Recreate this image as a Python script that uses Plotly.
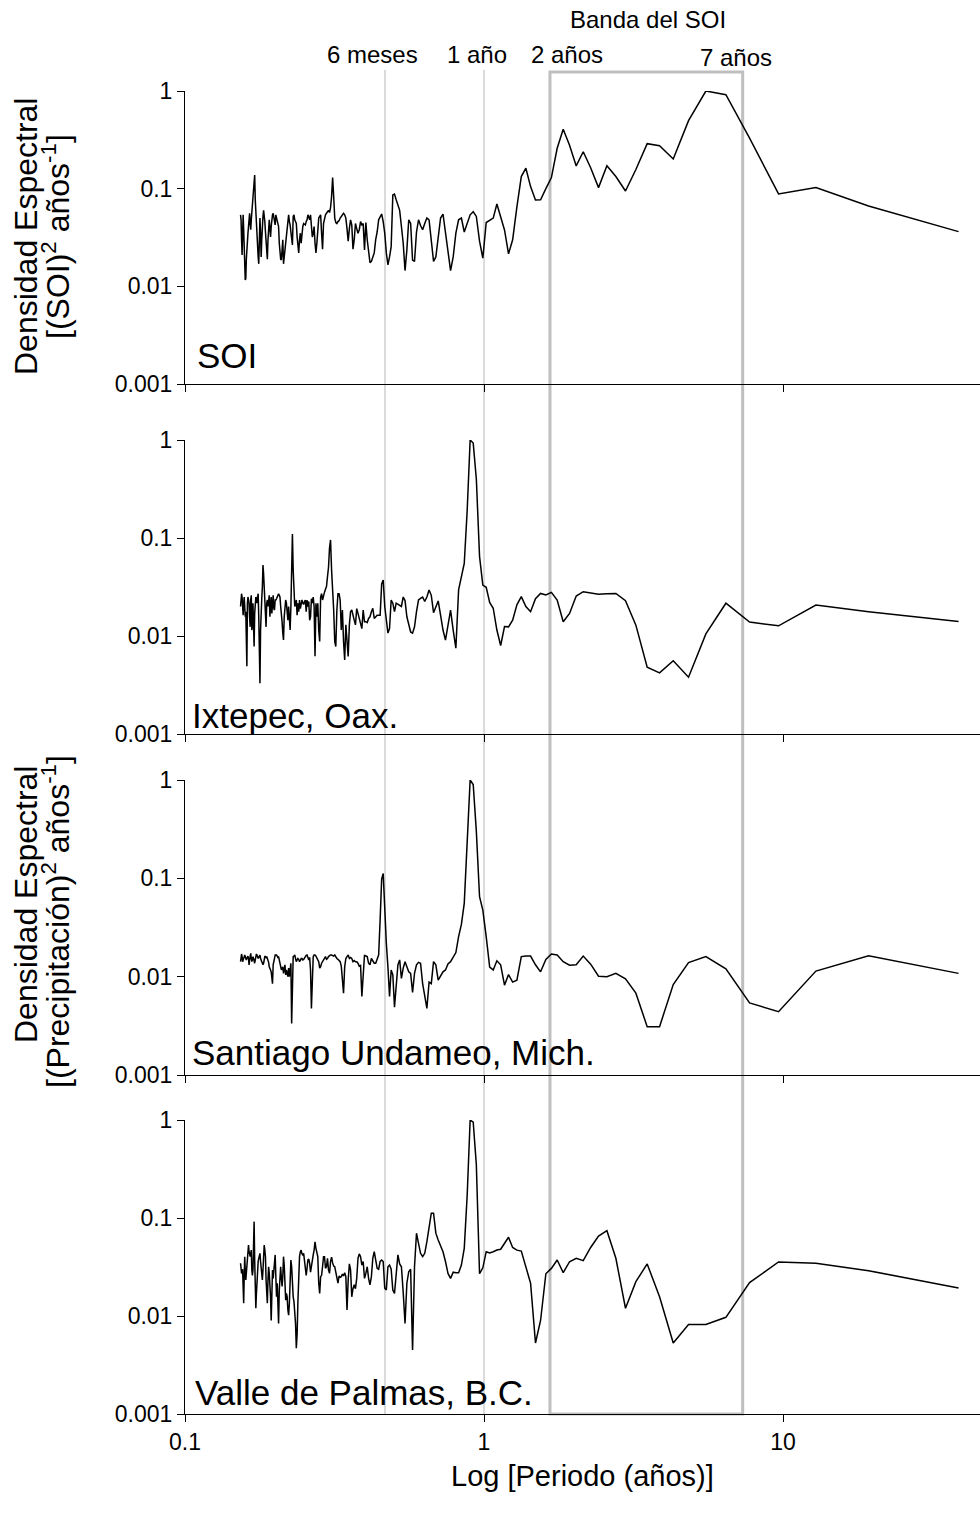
import numpy as np
import plotly.graph_objects as go

# Periodogram harmonics: period (years) = record length / harmonic number
registro_anios = 38.65
armonicos = np.arange(252, 0, -1)          # left (short periods) to right (long periods)
periodo = registro_anios / armonicos

# Spectral density per harmonic, ordered k = 252 ... 1
soi = [
    0.054, 0.048, 0.03, 0.021, 0.035, 0.054, 0.038, 0.0255, 0.017, 0.0116, 0.012, 0.019,
    0.0265, 0.03, 0.035, 0.041, 0.052, 0.056, 0.044, 0.038, 0.048, 0.058,
    0.064, 0.073, 0.083, 0.125, 0.138, 0.077, 0.056, 0.048, 0.039, 0.032,
    0.02, 0.017, 0.03, 0.05, 0.035, 0.02, 0.03, 0.048, 0.052, 0.06,
    0.054, 0.046, 0.036, 0.03, 0.021, 0.019, 0.03, 0.0425, 0.048, 0.039,
    0.032, 0.041, 0.05, 0.054, 0.056, 0.052, 0.046, 0.0425, 0.054, 0.05,
    0.046, 0.044, 0.041, 0.0276, 0.02, 0.019, 0.0186, 0.024, 0.03, 0.017,
    0.02, 0.0276, 0.031, 0.035, 0.041, 0.048, 0.054, 0.046, 0.0425, 0.036,
    0.032, 0.0265, 0.052, 0.054, 0.048, 0.046, 0.044, 0.032, 0.0255, 0.022,
    0.03, 0.035, 0.0276, 0.035, 0.041, 0.044, 0.0436, 0.0425, 0.046, 0.048,
    0.054, 0.05, 0.048, 0.054, 0.041, 0.032, 0.035, 0.041, 0.0276, 0.022,
    0.0276, 0.041, 0.05, 0.052, 0.054, 0.035, 0.024, 0.044, 0.05, 0.054,
    0.056, 0.058, 0.06, 0.057, 0.064, 0.083, 0.13, 0.083, 0.05, 0.045,
    0.044, 0.046, 0.047, 0.05, 0.052, 0.054, 0.056, 0.054, 0.05, 0.039,
    0.029, 0.039, 0.048, 0.0425, 0.024, 0.03, 0.044, 0.039, 0.035, 0.038,
    0.046, 0.0425, 0.044, 0.0236, 0.045, 0.03, 0.0227, 0.0175, 0.018, 0.02,
    0.022, 0.03, 0.036, 0.048, 0.052, 0.055, 0.046, 0.035, 0.022, 0.0166,
    0.02, 0.0255, 0.086, 0.088, 0.077, 0.0665, 0.06, 0.041, 0.0276, 0.0145,
    0.0236, 0.048, 0.044, 0.0186, 0.018, 0.036, 0.048, 0.042, 0.038, 0.044,
    0.05, 0.048, 0.0276, 0.018, 0.02, 0.03, 0.05, 0.055, 0.035, 0.0227,
    0.0145, 0.02, 0.035, 0.048, 0.05, 0.036, 0.0436, 0.054, 0.058, 0.052,
    0.029, 0.0194, 0.045, 0.047, 0.05, 0.0697, 0.0518, 0.0378, 0.0215, 0.03,
    0.065, 0.133, 0.162, 0.105, 0.0766,
    0.077, 0.1, 0.13, 0.259, 0.405, 0.278, 0.171, 0.239, 0.164, 0.1025,
    0.172, 0.133, 0.0947, 0.157, 0.289, 0.275, 0.201, 0.497, 1.0, 0.917,
    0.33, 0.0883, 0.1025, 0.0665, 0.0363,
]

ixtepec = [
    0.02, 0.0225, 0.027, 0.025, 0.018, 0.0163, 0.0216, 0.025, 0.02, 0.0157, 0.0177, 0.0115,
    0.0049, 0.0216, 0.025, 0.0233, 0.0216, 0.0157, 0.0124, 0.0233, 0.026, 0.0115,
    0.013, 0.0216, 0.013, 0.0078, 0.017, 0.0233, 0.025, 0.0233, 0.0216, 0.025,
    0.027, 0.0157, 0.0078, 0.0033, 0.0115, 0.0216, 0.024, 0.032, 0.053, 0.043,
    0.0295, 0.0216, 0.0145, 0.0124, 0.0216, 0.0233, 0.02, 0.024, 0.026, 0.0157,
    0.02, 0.025, 0.017, 0.0216, 0.026, 0.019, 0.0184, 0.0233, 0.0233, 0.024,
    0.025, 0.026, 0.027, 0.026, 0.025, 0.02, 0.0177, 0.014, 0.0107, 0.0091,
    0.0157, 0.0225, 0.0233, 0.0216, 0.0177, 0.0145, 0.02, 0.0157, 0.0115, 0.02,
    0.064, 0.11, 0.047, 0.025, 0.02, 0.0216, 0.0233, 0.0163, 0.0216, 0.0177,
    0.0233, 0.019, 0.0225, 0.0233, 0.0216, 0.021, 0.0225, 0.0233, 0.0177, 0.0233,
    0.02, 0.0225, 0.0145, 0.0157, 0.024, 0.0216, 0.025, 0.02, 0.0062, 0.0216,
    0.0157, 0.0216, 0.0115, 0.0088, 0.025, 0.027, 0.0233, 0.027, 0.028, 0.03,
    0.032, 0.0403, 0.05, 0.079, 0.0955, 0.047, 0.032, 0.0184, 0.0088, 0.0078,
    0.0184, 0.027, 0.027, 0.0233, 0.0115, 0.0184, 0.0088, 0.0057, 0.013, 0.0088,
    0.0062, 0.013, 0.0177, 0.0184, 0.0157, 0.0145, 0.013, 0.019, 0.017, 0.0152,
    0.014, 0.0119, 0.0184, 0.014, 0.014, 0.0137, 0.0151, 0.0157, 0.0177, 0.0192,
    0.0151, 0.0157, 0.0163, 0.0163, 0.0163, 0.034, 0.0373, 0.02, 0.0145, 0.0107,
    0.0119, 0.0233, 0.0216, 0.0177, 0.0216, 0.021, 0.0208, 0.02, 0.025, 0.023,
    0.0157, 0.013, 0.011, 0.0107, 0.0124, 0.0177, 0.0233, 0.0242, 0.025, 0.0225,
    0.025, 0.0295, 0.026, 0.0173, 0.02, 0.0228, 0.0163, 0.0115, 0.0091, 0.0134,
    0.0184, 0.0115, 0.0075, 0.0295, 0.0388, 0.055, 0.19, 1.0, 0.93, 0.4,
    0.065, 0.0331, 0.0314, 0.022, 0.0192, 0.0115, 0.008, 0.0125, 0.0124, 0.0145,
    0.0208, 0.0252, 0.02, 0.0177, 0.024,
    0.0272, 0.0262, 0.0279, 0.0233, 0.014, 0.017, 0.0256, 0.0283, 0.0277, 0.0266,
    0.027, 0.0272, 0.0229, 0.0129, 0.0048, 0.0042, 0.0056, 0.0038, 0.0105, 0.0216,
    0.0139, 0.0127, 0.0207, 0.0177, 0.0141,
]

santiago = [
    0.0142, 0.0166, 0.017, 0.016, 0.0142, 0.0148, 0.0153, 0.0166, 0.0166, 0.016, 0.0153, 0.0148,
    0.0153, 0.016, 0.0162, 0.0153, 0.0132, 0.0148, 0.0166, 0.0173, 0.0153, 0.0142,
    0.015, 0.016, 0.0153, 0.0142, 0.0137, 0.0148, 0.016, 0.017, 0.0166, 0.016,
    0.0153, 0.0157, 0.0162, 0.0166, 0.0153, 0.0148, 0.0146, 0.014, 0.0132, 0.0137,
    0.0153, 0.016, 0.016, 0.0157, 0.016, 0.0153, 0.0146, 0.014, 0.0126, 0.0117,
    0.0117, 0.0112, 0.0097, 0.0085, 0.0132, 0.0148, 0.016, 0.0166, 0.0166, 0.0166,
    0.0162, 0.0157, 0.016, 0.015, 0.0142, 0.0126, 0.0117, 0.0122, 0.0126, 0.0108,
    0.0132, 0.0132, 0.0104, 0.0117, 0.0108, 0.01, 0.0122, 0.01, 0.0117, 0.0137,
    0.00335, 0.0117, 0.016, 0.0162, 0.0166, 0.0153, 0.0142, 0.0148, 0.0153, 0.015,
    0.0142, 0.0146, 0.0153, 0.0153, 0.0148, 0.015, 0.0157, 0.016, 0.0165, 0.0166,
    0.015, 0.0148, 0.0157, 0.0117, 0.00475, 0.0117, 0.016, 0.0166, 0.0166, 0.0162,
    0.0153, 0.0148, 0.0142, 0.0122, 0.0126, 0.0137, 0.0142, 0.0148, 0.0157, 0.016,
    0.015, 0.0153, 0.016, 0.0165, 0.0166, 0.0166, 0.0162, 0.0162, 0.0166, 0.0157,
    0.0153, 0.015, 0.0146, 0.0142, 0.0128, 0.01, 0.0068, 0.0126, 0.0153, 0.016,
    0.0166, 0.0153, 0.0157, 0.0153, 0.0142, 0.0146, 0.0142, 0.0142, 0.0137, 0.0128,
    0.013, 0.0063, 0.0117, 0.0166, 0.0162, 0.016, 0.0137, 0.0132, 0.0153, 0.0142,
    0.0137, 0.0137, 0.0148, 0.0166, 0.038, 0.098, 0.112, 0.0476, 0.0218, 0.0126,
    0.0063, 0.0117, 0.0104, 0.0049, 0.0082, 0.0132, 0.0148, 0.0096, 0.0122, 0.0142,
    0.0126, 0.0112, 0.0108, 0.0069, 0.0108, 0.0132, 0.014, 0.0137, 0.0085, 0.006,
    0.00475, 0.0088, 0.0085, 0.0142, 0.0132, 0.0092, 0.01, 0.0112, 0.0117, 0.0135,
    0.0142, 0.016, 0.0176, 0.0255, 0.034, 0.0557, 0.25, 1.0, 0.9, 0.3,
    0.065, 0.0476, 0.0255, 0.0125, 0.0117, 0.0145, 0.0132, 0.0082, 0.0105, 0.0088,
    0.0092, 0.016, 0.0162, 0.0162, 0.0132,
    0.0112, 0.015, 0.017, 0.0166, 0.0142, 0.0131, 0.0132, 0.0162, 0.0134, 0.0101,
    0.01, 0.0108, 0.0095, 0.0068, 0.0031, 0.0031, 0.0083, 0.0139, 0.016, 0.012,
    0.0054, 0.0044, 0.0114, 0.0163, 0.0108,
]

valle = [
    0.0345, 0.028, 0.0272, 0.028, 0.03, 0.02, 0.0135, 0.0252, 0.0403, 0.0295, 0.0233, 0.0272,
    0.0318, 0.0318, 0.0436, 0.053, 0.0453, 0.0403, 0.0403, 0.0436, 0.0471, 0.0295,
    0.026, 0.0295, 0.0552, 0.0918, 0.0373, 0.0184, 0.012, 0.017, 0.0242, 0.0318,
    0.036, 0.0388, 0.0403, 0.0436, 0.036, 0.0295, 0.0252, 0.0233, 0.0295, 0.0388,
    0.053, 0.0471, 0.0403, 0.0233, 0.017, 0.0135, 0.0233, 0.0318, 0.0272, 0.0216,
    0.0157, 0.009, 0.0157, 0.0295, 0.0242, 0.0295, 0.036, 0.042, 0.0252, 0.0157,
    0.0216, 0.0115, 0.0084, 0.0184, 0.0272, 0.0318, 0.0242, 0.02, 0.0252, 0.0403,
    0.033, 0.0252, 0.0145, 0.017, 0.0157, 0.0115, 0.0102, 0.0135, 0.0233, 0.0373,
    0.0318, 0.0184, 0.0157, 0.014, 0.0115, 0.0084, 0.0047, 0.0065, 0.014, 0.025,
    0.0403, 0.0453, 0.0471, 0.043, 0.042, 0.0436, 0.0345, 0.0272, 0.026, 0.0307,
    0.0373, 0.038, 0.0345, 0.028, 0.033, 0.038, 0.042, 0.0471, 0.057, 0.049,
    0.0436, 0.0403, 0.0216, 0.017, 0.0252, 0.026, 0.0318, 0.0403, 0.0403, 0.0307,
    0.0318, 0.0388, 0.0295, 0.0272, 0.036, 0.0398, 0.0348, 0.0323, 0.0318, 0.0276,
    0.0252, 0.0216, 0.0256, 0.0248, 0.0252, 0.0268, 0.0256, 0.0276, 0.0252, 0.0115,
    0.0233, 0.034, 0.0295, 0.0157, 0.019, 0.0208, 0.019, 0.0242, 0.0388, 0.043,
    0.0403, 0.0331, 0.036, 0.0242, 0.0272, 0.0318, 0.0242, 0.0208, 0.0252, 0.0388,
    0.0453, 0.036, 0.0307, 0.03, 0.036, 0.0373, 0.036, 0.0192, 0.0184, 0.0318,
    0.0331, 0.03, 0.0184, 0.017, 0.0295, 0.042, 0.034, 0.0318, 0.0173, 0.0084,
    0.0216, 0.0283, 0.03, 0.0045, 0.0318, 0.07, 0.055, 0.0436, 0.0403, 0.0436,
    0.0574, 0.079, 0.112, 0.112, 0.07, 0.0597, 0.051, 0.0453, 0.036, 0.0272,
    0.0242, 0.028, 0.0276, 0.0276, 0.0331, 0.049, 0.17, 1.0, 0.95, 0.35,
    0.027, 0.031, 0.0453, 0.044, 0.0453, 0.0471, 0.048, 0.056, 0.0636, 0.05,
    0.047, 0.046, 0.031, 0.0216, 0.0053,
    0.009, 0.027, 0.0306, 0.0373, 0.0277, 0.0358, 0.0388, 0.0367, 0.05, 0.0655,
    0.0742, 0.0388, 0.012, 0.0224, 0.034, 0.0157, 0.0053, 0.0082, 0.0082, 0.0097,
    0.0219, 0.0356, 0.0345, 0.029, 0.0193,
]

series = [
    ("SOI", soi),
    ("Ixtepec, Oax.", ixtepec),
    ("Santiago Undameo, Mich.", santiago),
    ("Valle de Palmas, B.C.", valle),
]
for nombre, vals in series:
    assert len(vals) == len(periodo), (nombre, len(vals))

# Reference periods marked on the chart (years)
linea_6_meses = 0.4666
linea_1_anio = 1.0
banda_soi = (1.662, 7.33)

# Page geometry (pixels)
W, H = 980, 1513
ML, MR, MT, MB = 185, 0, 91, 99
plot_w = W - ML - MR
plot_h = H - MT - MB
panel_px = [(91, 384), (440, 734), (780, 1075), (1120, 1414)]  # (top, bottom)


def py2paper(py):
    return (H - MB - py) / plot_h


def px2paper(px):
    return (px - ML) / plot_w


FONT = "Liberation Sans, Arial, sans-serif"
TICK_SIZE = 23
fig = go.Figure()

for i, (nombre, vals) in enumerate(series, start=1):
    fig.add_trace(go.Scatter(
        x=periodo, y=vals, mode="lines",
        line=dict(color="black", width=1.5),
        xaxis=f"x{i}", yaxis=f"y{i}", showlegend=False, hoverinfo="x+y",
    ))

layout = dict(
    width=W, height=H,
    margin=dict(l=ML, r=MR, t=MT, b=MB),
    paper_bgcolor="white", plot_bgcolor="rgba(0,0,0,0)",
    font=dict(family=FONT, size=TICK_SIZE, color="black"),
    showlegend=False,
)
for i, (top, bot) in enumerate(panel_px, start=1):
    xa = "xaxis" if i == 1 else f"xaxis{i}"
    ya = "yaxis" if i == 1 else f"yaxis{i}"
    layout[xa] = dict(
        type="log", range=[-1, -1 + plot_w / 299.0],
        domain=[0, 1], anchor=f"y{i}",
        tickvals=[0.1, 1, 10], ticktext=["0.1", "1", "10"],
        ticks="outside", ticklen=7, tickwidth=1, tickcolor="black",
        showticklabels=(i == 4), tickfont=dict(size=TICK_SIZE),
        showline=True, linecolor="black", linewidth=1,
        showgrid=False, zeroline=False,
    )
    if i > 1:
        layout[xa]["matches"] = "x"
    layout[ya] = dict(
        type="log", range=[-3, 0],
        domain=[py2paper(bot), py2paper(top)], anchor=f"x{i}",
        tickvals=[0.001, 0.01, 0.1, 1], ticktext=["0.001", "0.01", "0.1", "1"],
        ticks="outside", ticklen=7, tickwidth=1, tickcolor="black",
        tickfont=dict(size=TICK_SIZE),
        showline=True, linecolor="black", linewidth=1,
        showgrid=False, zeroline=False,
    )
fig.update_layout(**layout)

# Gray reference lines and the SOI band box, spanning all panels
y_top_lines = py2paper(70)
y_top_box = py2paper(72)
for xv in (linea_6_meses, linea_1_anio):
    fig.add_shape(type="line", xref="x4", yref="paper",
                  x0=xv, x1=xv, y0=0, y1=y_top_lines,
                  line=dict(color="#cfcfcf", width=1.5), layer="below")
fig.add_shape(type="rect", xref="x4", yref="paper",
              x0=banda_soi[0], x1=banda_soi[1], y0=0, y1=y_top_box,
              line=dict(color="#bfbfbf", width=3), fillcolor="rgba(0,0,0,0)",
              layer="below")


# Text labels
def texto(t, px, py, size, xanchor="center", yanchor="middle", angle=0):
    fig.add_annotation(text=t, x=px2paper(px), y=py2paper(py),
                       xref="paper", yref="paper", showarrow=False,
                       xanchor=xanchor, yanchor=yanchor, textangle=angle,
                       font=dict(family=FONT, size=size, color="black"))


texto("Banda del SOI", 648, 20, 24)
texto("6 meses", 372, 55, 24)
texto("1 año", 477, 55, 24)
texto("2 años", 567, 55, 24)
texto("7 años", 736, 58, 24)

panel_labels = [(195, 355), (190, 715), (190, 1052), (193, 1392)]
for (nombre, _), (lx, ly) in zip(series, panel_labels):
    texto(nombre, lx, ly, 35, xanchor="left")

texto("Log [Periodo (años)]", 582, 1476, 29)

# Rotated axis titles, one annotation per line
texto("Densidad Espectral", 26, 237, 32, angle=-90)
texto("[(SOI)<sup>2</sup> años<sup>-1</sup>]", 56, 237, 32, angle=-90)
texto("Densidad Espectral", 26, 905, 32, angle=-90)
texto("[(Precipitación)<sup>2</sup> años<sup>-1</sup>]", 56, 922, 32, angle=-90)

fig.write_html("out.html")
